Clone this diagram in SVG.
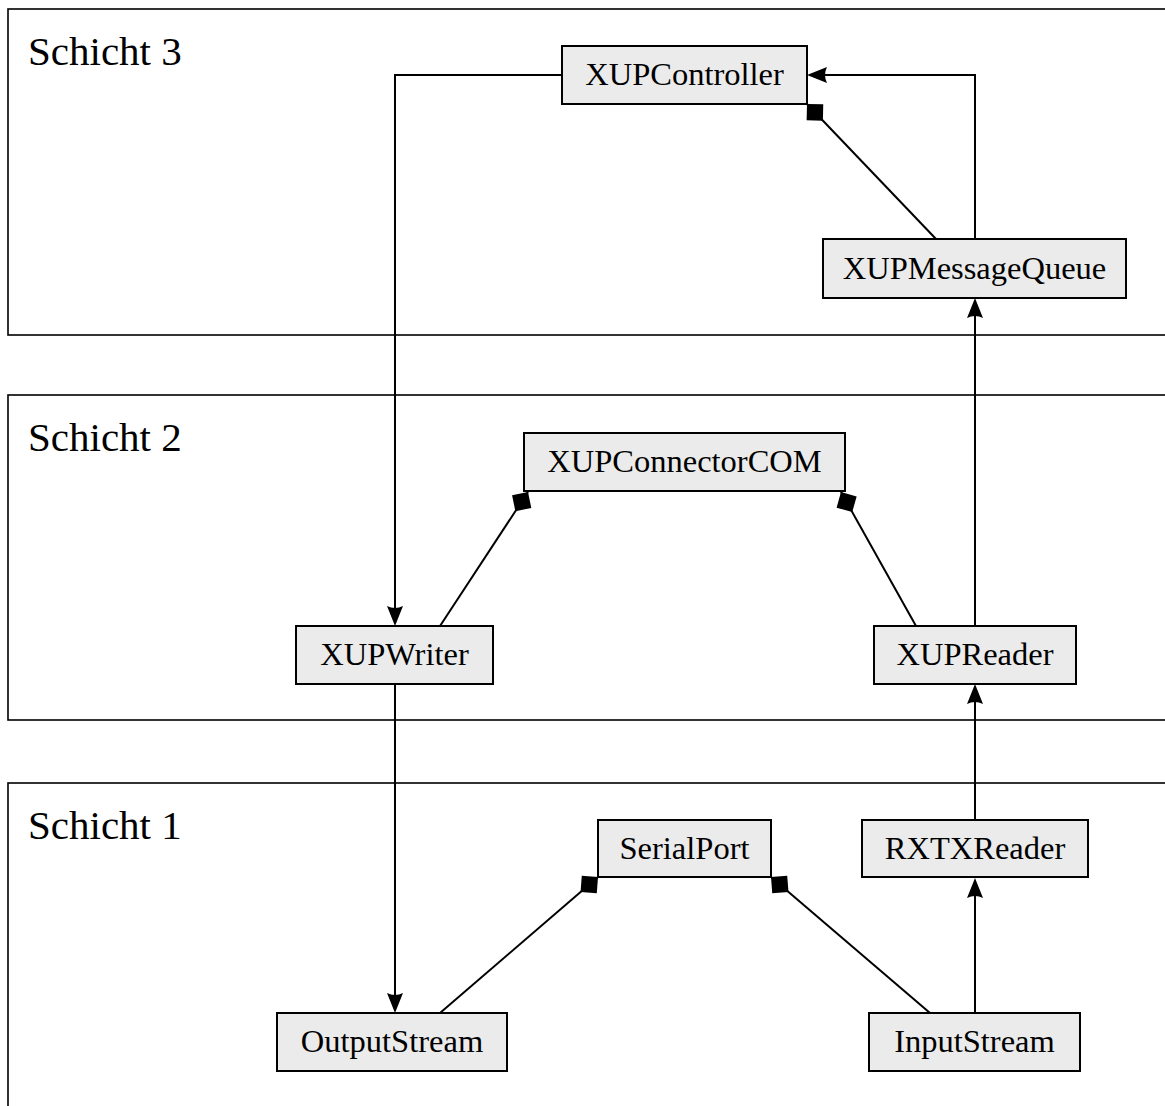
<svg xmlns="http://www.w3.org/2000/svg" width="1165" height="1106" viewBox="0 0 1165 1106">
  <style>
    .layer { fill: none; stroke: #000; stroke-width: 1.6; }
    .layer-label { font-family: "Liberation Serif", "DejaVu Serif", serif; font-size: 41px; fill: #000; }
    .node rect { fill: #ebebeb; stroke: #000; stroke-width: 2; }
    .node text { font-family: "Liberation Serif", "DejaVu Serif", serif; font-size: 32.5px; fill: #000; text-anchor: middle; }
    .edge { fill: none; stroke: #000; stroke-width: 2; }
    .flow { marker-end: url(#arrow); }
    .part { marker-start: url(#composite); }
  </style>
  <defs>
    <marker id="arrow" viewBox="0 0 24 20" markerWidth="24" markerHeight="20" refX="17" refY="10" markerUnits="userSpaceOnUse" orient="auto">
      <path d="M1,2 L21,10 L1,18 Q5,10 1,2 Z" fill="#000"/>
    </marker>
    <marker id="composite" viewBox="-1 -13 26 26" markerWidth="26" markerHeight="26" refX="0" refY="0" markerUnits="userSpaceOnUse" orient="auto">
      <path d="M0,0 L11.5,-11.5 L23,0 L11.5,11.5 Z" fill="#000"/>
    </marker>
  </defs>

  <!-- layers -->
  <g id="layers">
    <rect class="layer" x="8" y="9" width="1200" height="326"/>
    <text class="layer-label" x="28" y="65">Schicht 3</text>
    <rect class="layer" x="8" y="395" width="1200" height="325"/>
    <text class="layer-label" x="28" y="451">Schicht 2</text>
    <rect class="layer" x="8" y="783" width="1200" height="400"/>
    <text class="layer-label" x="28" y="839">Schicht 1</text>
  </g>

  <!-- connectors -->
  <g id="connectors">
    <path class="edge flow" d="M562,75 H395 V622"/>
    <path class="edge flow" d="M975,239 V75 H811"/>
    <path class="edge part" d="M807,104 L936,239"/>
    <path class="edge part" d="M528,492 L440,626"/>
    <path class="edge part" d="M841,492 L916,626"/>
    <path class="edge flow" d="M395,684 V1009"/>
    <path class="edge flow" d="M975,626 V302"/>
    <path class="edge flow" d="M975,820 V688"/>
    <path class="edge flow" d="M975,1013 V882"/>
    <path class="edge part" d="M598,877 L440,1013"/>
    <path class="edge part" d="M771,877 L930,1013"/>
  </g>

  <!-- nodes -->
  <g id="XUPController" class="node">
    <rect x="562" y="46" width="245" height="58"/>
    <text x="684.5" y="85">XUPController</text>
  </g>
  <g id="XUPMessageQueue" class="node">
    <rect x="823" y="239" width="303" height="59"/>
    <text x="974.5" y="279">XUPMessageQueue</text>
  </g>
  <g id="XUPConnectorCOM" class="node">
    <rect x="524" y="433" width="321" height="58"/>
    <text x="684.5" y="472">XUPConnectorCOM</text>
  </g>
  <g id="XUPWriter" class="node">
    <rect x="296" y="626" width="197" height="58"/>
    <text x="394.5" y="665">XUPWriter</text>
  </g>
  <g id="XUPReader" class="node">
    <rect x="874" y="626" width="202" height="58"/>
    <text x="975" y="665">XUPReader</text>
  </g>
  <g id="SerialPort" class="node">
    <rect x="598" y="820" width="173" height="57"/>
    <text x="684.5" y="859">SerialPort</text>
  </g>
  <g id="RXTXReader" class="node">
    <rect x="862" y="820" width="226" height="57"/>
    <text x="975" y="859">RXTXReader</text>
  </g>
  <g id="OutputStream" class="node">
    <rect x="277" y="1013" width="230" height="58"/>
    <text x="392" y="1052">OutputStream</text>
  </g>
  <g id="InputStream" class="node">
    <rect x="869" y="1013" width="211" height="58"/>
    <text x="974.5" y="1052">InputStream</text>
  </g>
</svg>
